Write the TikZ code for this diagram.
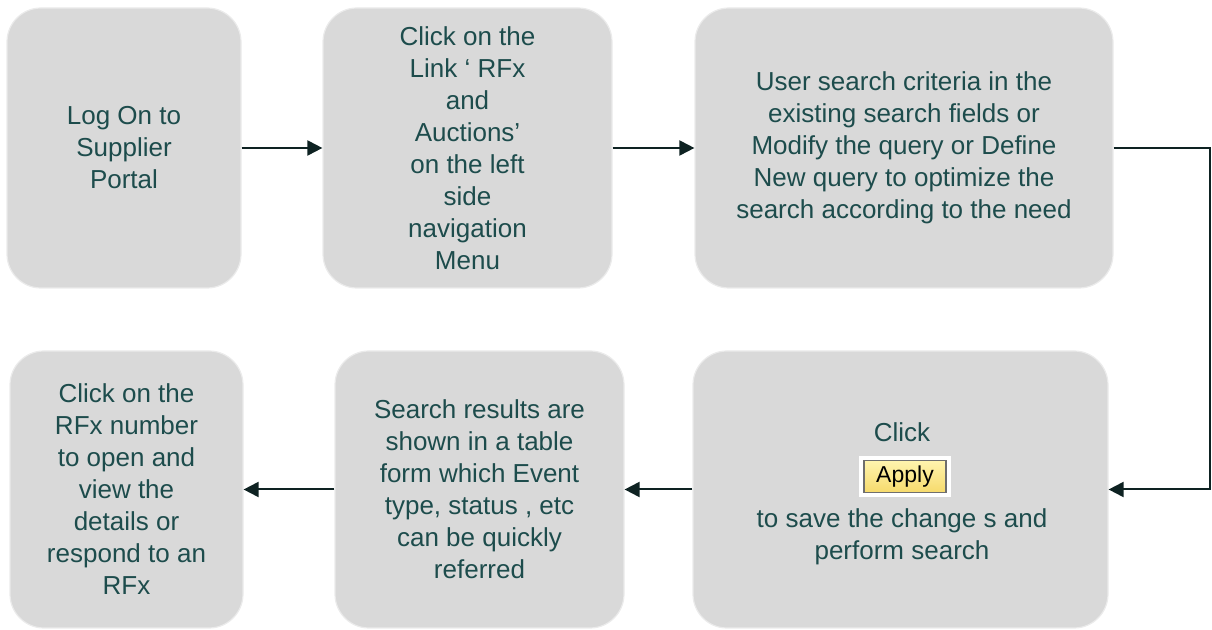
\documentclass[tikz,border=0pt]{standalone}
\usepackage{fontspec}
\setmainfont{Liberation Sans}
\usetikzlibrary{arrows.meta}
\definecolor{boxgray}{HTML}{D9D9D9}
\definecolor{boxedge}{HTML}{EBEBEB}
\definecolor{txtteal}{HTML}{1D4C4C}
\definecolor{arrowdark}{HTML}{0E2222}
\definecolor{btnedge}{HTML}{6E6E6E}
\definecolor{btntop}{HTML}{FFF4AE}
\definecolor{btnbot}{HTML}{F6DA6C}

\begin{document}
\begin{tikzpicture}[x=0.5pt,y=-0.5pt,
	stepbox/.style={rectangle, rounded corners=17pt, draw=boxedge, line width=0.6pt, fill=boxgray, text=txtteal, align=center, inner sep=0, font=\fontsize{13}{16}\selectfont},
	toprow/.style={stepbox, minimum height=140pt},
	botrow/.style={stepbox, minimum height=138.5pt},
	steptxt/.style={text=txtteal, align=center, inner sep=0, font=\fontsize{13}{16}\selectfont},
	btnbg/.style={rectangle, fill=white, minimum width=46pt, minimum height=20.5pt, inner sep=0},
	btn/.style={rectangle, draw=btnedge, line width=0.9pt, top color=btntop, bottom color=btnbot, minimum width=41pt, minimum height=16pt, inner sep=0, font=\fontsize{11.5}{12}\selectfont},
	flow/.style={line width=1pt, arrowdark, -{Triangle[length=7.5pt,width=7.5pt]}}]

	\useasboundingbox (0,0) rectangle (1212,630);

	%top row
	\node[toprow, minimum width=117pt] at (124,148) (b1) {Log On to\\Supplier\\Portal};
	\node[toprow, minimum width=144.5pt] at (467.5,148) (b2) {Click on the\\Link ‘ RFx\\and\\Auctions’\\on the left\\side\\navigation\\Menu};
	\node[toprow, minimum width=209pt] at (904,148) (b3) {User search criteria in the\\existing search fields or\\Modify the query or Define\\New query to optimize the\\search according to the need};

	%bottom row
	\node[botrow, minimum width=207.5pt] at (900.5,489.5) (b4) {};
	\node[botrow, minimum width=144.5pt] at (479.5,489.5) (b5) {Search results are\\shown in a table\\form which Event\\type, status , etc\\can be quickly\\referred};
	\node[botrow, minimum width=116.5pt] at (126.5,489.5) (b6) {Click on the\\RFx number\\to open and\\view the\\details or\\respond to an\\RFx};

	%apply button
	\node[steptxt] at (902,432) (click) {Click};
	\node[btnbg] at (905,476.5) (applybg) {};
	\node[btn] at (applybg) (apply) {Apply};
	\node[steptxt] at (902,537) (save) {to save the change s and\\perform search};

	%arrows
	\foreach \a/\b in {b1/b2,b2/b3,b4/b5,b5/b6} {
		\draw[flow] (\a) -- (\b);
	}
	\draw[flow] (b3.east) -- ++(96,0) coordinate (turn) |- (b4.east);
\end{tikzpicture}
\end{document}
